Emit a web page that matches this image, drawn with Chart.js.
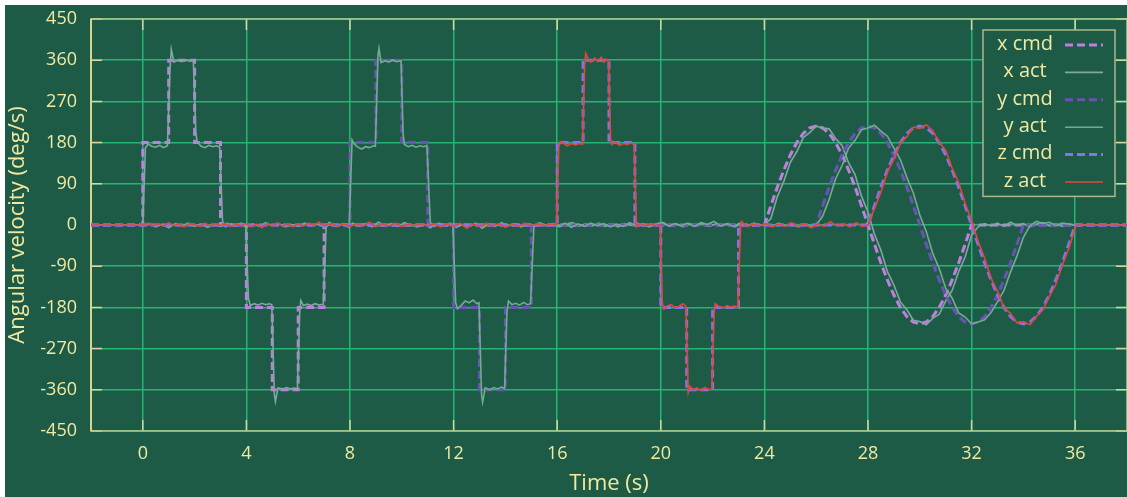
<!DOCTYPE html>
<html>
<head>
<meta charset="utf-8">
<script src="https://cdn.jsdelivr.net/npm/chart.js@4"></script>
<style>
  body { margin: 0; background: #fff; }
  #plot { position: absolute; left: 5px; top: 5px; }
</style>
</head>
<body>
<canvas id="plot" width="1122" height="492"></canvas>
<script>
// tick positions
const timeTicks = [0, 4, 8, 12, 16, 20, 24, 28, 32, 36];
const velTicks = [-450, -360, -270, -180, -90, 0, 90, 180, 270, 360, 450];

// commanded angular velocity, [time s, deg/s]
const xCmd = [[-2,0],[0,0],[0,180],[1,180],[1,360],[2,360],[2,180],[3,180],[3,0],[4,0],[4,-180],[5,-180],[5,-360],[6,-360],[6,-180],[7,-180],[7,0],[24,0],
  [24.25,42],[24.5,83],[24.75,120],[25,153],[25.25,180],[25.5,200],[25.75,212],[26,216],[26.25,212],[26.5,200],[26.75,180],[27,153],[27.25,120],[27.5,83],[27.75,42],[28,0],
  [28.25,-42],[28.5,-83],[28.75,-120],[29,-153],[29.25,-180],[29.5,-200],[29.75,-212],[30,-216],[30.25,-212],[30.5,-200],[30.75,-180],[31,-153],[31.25,-120],[31.5,-83],[31.75,-42],[32,0],[38,0]];
const yCmd = [[-2,0],[8,0],[8,180],[9,180],[9,360],[10,360],[10,180],[11,180],[11,0],[12,0],[12,-180],[13,-180],[13,-360],[14,-360],[14,-180],[15,-180],[15,0],[26,0],
  [26.25,42],[26.5,83],[26.75,120],[27,153],[27.25,180],[27.5,200],[27.75,212],[28,216],[28.25,212],[28.5,200],[28.75,180],[29,153],[29.25,120],[29.5,83],[29.75,42],[30,0],
  [30.25,-42],[30.5,-83],[30.75,-120],[31,-153],[31.25,-180],[31.5,-200],[31.75,-212],[32,-216],[32.25,-212],[32.5,-200],[32.75,-180],[33,-153],[33.25,-120],[33.5,-83],[33.75,-42],[34,0],[38,0]];
const zCmd = [[-2,0],[16,0],[16,180],[17,180],[17,360],[18,360],[18,180],[19,180],[19,0],[20,0],[20,-180],[21,-180],[21,-360],[22,-360],[22,-180],[23,-180],[23,0],[28,0],
  [28.25,42],[28.5,83],[28.75,120],[29,153],[29.25,180],[29.5,200],[29.75,212],[30,216],[30.25,212],[30.5,200],[30.75,180],[31,153],[31.25,120],[31.5,83],[31.75,42],[32,0],
  [32.25,-42],[32.5,-83],[32.75,-120],[33,-153],[33.25,-180],[33.5,-200],[33.75,-212],[34,-216],[34.25,-212],[34.5,-200],[34.75,-180],[35,-153],[35.25,-120],[35.5,-83],[35.75,-42],[36,0],[38,0]];

// measured angular velocity, [time s, deg/s]
const xAct = [[-2,0],[0,0],
  [0.1,168],[0.2,177],[0.35,172],[0.5,170],[0.65,174],[0.8,169],[0.95,173],
  [1.05,340],[1.1,384],[1.2,356],[1.35,360],[1.5,357],[1.65,361],[1.8,358],[1.95,360],
  [2.05,200],[2.1,182],[2.25,172],[2.4,169],[2.55,174],[2.7,171],[2.85,173],[2.97,170],
  [3.08,8],[3.2,-4],[3.4,3],[3.6,-2],[3.8,4],[3.97,0],
  [4.08,-160],[4.15,-176],[4.3,-172],[4.45,-175],[4.6,-171],[4.75,-174],[4.9,-172],[4.98,-174],
  [5.08,-370],[5.12,-386],[5.22,-356],[5.4,-358],[5.55,-355],[5.7,-358],[5.85,-356],[5.97,-357],
  [6.06,-190],[6.1,-165],[6.2,-176],[6.35,-173],[6.5,-176],[6.65,-172],[6.8,-175],[6.97,-173],
  [7.08,-4],[7.2,6],[7.45,-3],[7.7,2],[7.95,-5],
  [8.1,4],[8.35,-2],[8.6,3],[8.85,-4],[9.1,6],[9.35,-1],[9.6,3],[9.85,-3],[10.1,5],[10.35,0],[10.6,-4],[10.85,2],
  [11.1,-6],[11.35,3],[11.6,-2],[11.85,4],[12.1,-5],[12.35,1],[12.6,-3],[12.85,4],[13.1,-7],[13.35,2],[13.6,-3],[13.85,5],
  [14.1,-2],[14.35,3],[14.6,-4],[14.85,2],[15.1,-3],[15.35,4],[15.6,-1],[15.85,3],[16.1,-4],[16.35,2],[16.6,5],[16.85,-3],
  [17.1,3],[17.35,-2],[17.6,4],[17.85,-3],[18.1,2],[18.35,-4],[18.6,3],[18.85,-1],[19.1,4],[19.35,-3],[19.6,2],[19.85,-2],
  [20.1,5],[20.35,-3],[20.6,2],[20.85,-4],[21.1,3],[21.35,-2],[21.6,4],[21.85,-3],[22.1,2],[22.35,-1],[22.6,3],[22.85,-4],
  [23.1,2],[23.35,-3],[23.6,4],[23.85,-1],
  [24,0],[24.25,14],[24.5,62],[24.75,95],[25,137],[25.25,160],[25.5,191],[25.75,202],[26,216],[26.25,212],[26.5,210],[26.75,189],
  [27,174],[27.25,136],[27.5,110],[27.75,63],[28,28],[28.25,-20],[28.5,-55],[28.75,-102],[29,-131],[29.25,-168],[29.5,-185],[29.75,-208],
  [30,-211],[30.25,-218],[30.5,-204],[30.75,-195],[31,-166],[31.25,-143],[31.5,-102],[31.75,-70],[32,-22],[32.25,-4],[32.5,3],
  [32.75,-2],[33,4],[33.25,-3],[33.5,6],[33.75,-1],[34,3],[34.25,-4],[34.5,2],[34.75,5],[35,-2],[35.25,3],[35.5,-3],[35.75,2],[36,0],[38,0]];

const yAct = [[-2,0],[0,0],
  [0.25,3],[0.5,-4],[0.75,2],[1,-6],[1.25,3],[1.5,-2],[1.75,4],[2,-3],[2.25,2],[2.5,-5],[2.75,1],[3,-3],[3.25,4],[3.5,-2],[3.75,3],
  [4,-4],[4.25,2],[4.5,-3],[4.75,5],[5,-2],[5.25,3],[5.5,-4],[5.75,1],[6,-3],[6.25,4],[6.5,-2],[6.75,3],[7,-5],[7.25,2],[7.5,-3],[7.75,3],[7.97,0],
  [8.08,186],[8.15,178],[8.3,170],[8.45,166],[8.6,171],[8.75,169],[8.9,173],[8.98,172],
  [9.08,370],[9.12,386],[9.2,355],[9.35,359],[9.5,356],[9.65,360],[9.8,357],[9.97,359],
  [10.05,200],[10.1,176],[10.25,171],[10.4,174],[10.55,170],[10.7,173],[10.85,171],[10.97,174],
  [11.1,6],[11.25,-3],[11.45,4],[11.7,-2],[11.97,2],
  [12.08,-170],[12.15,-183],[12.3,-175],[12.45,-166],[12.6,-170],[12.75,-164],[12.9,-172],[12.98,-170],
  [13.08,-372],[13.12,-387],[13.22,-356],[13.4,-360],[13.55,-355],[13.7,-358],[13.85,-354],[13.97,-357],
  [14.06,-190],[14.12,-166],[14.25,-174],[14.4,-171],[14.55,-175],[14.7,-169],[14.85,-174],[14.97,-172],
  [15.1,-4],[15.3,5],[15.55,-2],[15.8,3],
  [16.05,-3],[16.3,4],[16.55,-5],[16.8,2],[17.05,-3],[17.3,4],[17.55,-1],[17.8,3],[18.05,-4],[18.3,2],[18.55,-3],[18.8,5],
  [19.05,-2],[19.3,3],[19.55,-4],[19.8,2],[20.05,6],[20.3,-2],[20.55,3],[20.8,-1],[21.05,4],[21.3,-3],[21.55,5],[21.8,1],
  [22.05,8],[22.3,-2],[22.55,3],[22.8,-3],[23.05,4],[23.3,-2],[23.55,3],[23.8,-1],[24.05,2],[24.3,-3],[24.55,4],[24.8,-2],
  [25.05,3],[25.3,-4],[25.55,2],[25.8,-3],[26,0],
  [26.25,19],[26.5,56],[26.75,101],[27,130],[27.25,168],[27.5,185],[27.75,208],[28,212],[28.25,218],[28.5,205],[28.75,194],
  [29,168],[29.25,143],[29.5,104],[29.75,70],[30,22],[30.25,-14],[30.5,-62],[30.75,-95],[31,-138],[31.25,-160],[31.5,-192],[31.75,-201],
  [32,-216],[32.25,-212],[32.5,-207],[32.75,-191],[33,-168],[33.25,-143],[33.5,-103],[33.75,-68],[34,-27],[34.25,-2],[34.5,8],
  [34.75,3],[35,6],[35.25,-1],[35.5,4],[35.75,2],[36,0],[38,0]];

const zAct = [[-2,0],[0,0],
  [0.2,4],[0.4,-2],[0.6,3],[0.8,-3],[1,5],[1.2,-1],[1.4,2],[1.6,-4],[1.8,3],[2,1],[2.2,-3],[2.4,4],[2.6,-2],[2.8,3],[3,-1],
  [3.2,2],[3.4,-3],[3.6,2],[3.8,-2],[4,3],[4.2,-4],[4.4,2],[4.6,-6],[4.8,3],[5,-2],[5.2,5],[5.4,-3],[5.6,2],[5.8,-4],[6,3],
  [6.2,-2],[6.4,4],[6.6,-1],[6.8,6],[7,-2],[7.25,3],[7.5,-2],[7.75,2],[8,-3],[8.25,2],[8.5,-2],[8.75,6],[9,-4],[9.25,3],
  [9.5,-2],[9.75,4],[10,-3],[10.25,2],[10.5,-1],[10.75,3],[11,-2],[11.25,3],[11.5,-4],[11.75,2],[12,-3],[12.25,4],[12.5,-7],
  [12.75,2],[13,-3],[13.25,4],[13.5,-2],[13.75,3],[14,-5],[14.25,2],[14.5,-3],[14.75,4],[15,-2],[15.25,3],[15.5,-1],[15.75,2],[15.97,0],
  [16.06,170],[16.12,182],[16.25,178],[16.4,173],[16.55,178],[16.7,175],[16.85,178],[16.98,177],
  [17.06,350],[17.1,375],[17.2,362],[17.3,356],[17.45,365],[17.55,357],[17.7,366],[17.8,356],[17.9,362],[17.98,358],
  [18.06,190],[18.1,176],[18.25,181],[18.4,174],[18.55,178],[18.7,176],[18.85,179],[18.97,176],
  [19.06,-4],[19.2,3],[19.4,-2],[19.6,2],[19.8,-1],[19.97,0],
  [20.06,-170],[20.12,-184],[20.25,-177],[20.4,-174],[20.55,-180],[20.7,-178],[20.85,-172],[20.97,-178],
  [21.06,-365],[21.12,-352],[21.25,-360],[21.4,-356],[21.55,-362],[21.7,-355],[21.85,-360],[21.97,-358],
  [22.06,-190],[22.1,-172],[22.25,-178],[22.4,-181],[22.55,-176],[22.7,-179],[22.85,-177],[22.97,-180],
  [23.08,-2],[23.12,8],[23.3,-3],[23.55,2],[23.8,-2],
  [24.05,3],[24.3,-4],[24.55,2],[24.8,-3],[25.05,5],[25.3,-2],[25.55,3],[25.8,-6],[26.05,2],[26.3,-3],[26.55,7],[26.8,-2],
  [27.05,3],[27.3,-4],[27.55,5],[27.8,-3],[28,0],
  [28.25,36],[28.5,72],[28.75,116],[29,144],[29.25,178],[29.5,193],[29.75,214],[30,211],[30.25,219],[30.5,206],[30.75,181],
  [31,163],[31.25,124],[31.5,93],[31.75,47],[32,10],[32.25,-36],[32.5,-72],[32.75,-116],[33,-145],[33.25,-181],[33.5,-193],
  [33.75,-214],[34,-211],[34.25,-218],[34.5,-200],[34.75,-186],[35,-156],[35.25,-130],[35.5,-88],[35.75,-52],[36,-6],[36.05,0],[38,0]];

const seriesNames = ['x cmd', 'x act', 'y cmd', 'y act', 'z cmd', 'z act'];
const seriesData = [xCmd, xAct, yCmd, yAct, zCmd, zAct];
const seriesColors = ['#c07fe0', '#7fa6a0', '#6a52b6', '#76aa90', '#8672f0', '#e0483a'];

const bg = '#1e5b46';
const textColor = '#f0e9a2';

Chart.defaults.font.family = '"Open Sans", sans-serif';
Chart.defaults.color = textColor;

const datasets = seriesData.map((pts, i) => {
  const cmd = i % 2 === 0;
  return {
    label: seriesNames[i],
    data: pts.map(p => ({ x: p[0], y: p[1] })),
    borderColor: seriesColors[i],
    borderWidth: cmd ? 3 : 1.6,
    borderDash: cmd ? [8, 4] : [],
    pointRadius: 0,
    tension: 0,
    order: 5 - i
  };
});

// background fill
const bgPlugin = {
  id: 'bg',
  beforeDraw(chart) {
    const ctx = chart.ctx;
    ctx.save();
    ctx.fillStyle = bg;
    ctx.fillRect(0, 0, chart.width, chart.height);
    ctx.restore();
  }
};

// gnuplot style border with inward ticks
const framePlugin = {
  id: 'frame',
  beforeDatasetsDraw(chart) {
    const { ctx, chartArea: a, scales } = chart;
    ctx.save();
    ctx.lineWidth = 1.5;
    ctx.strokeStyle = '#d6d6a0';
    ctx.beginPath();
    timeTicks.forEach(v => {
      const px = scales.x.getPixelForValue(v);
      ctx.moveTo(px, a.top); ctx.lineTo(px, a.top + 11);
      ctx.moveTo(px, a.bottom); ctx.lineTo(px, a.bottom - 11);
    });
    velTicks.forEach(v => {
      const py = scales.y.getPixelForValue(v);
      ctx.moveTo(a.left, py); ctx.lineTo(a.left + 11, py);
      ctx.moveTo(a.right, py); ctx.lineTo(a.right - 11, py);
    });
    ctx.stroke();
    ctx.strokeStyle = '#bcc48c';
    ctx.strokeRect(a.left, a.top, a.right - a.left, a.bottom - a.top);
    ctx.strokeStyle = '#ece48e';
    ctx.beginPath();
    ctx.moveTo(a.left, a.top); ctx.lineTo(a.left, a.bottom);
    ctx.stroke();
    ctx.restore();
  }
};

// legend box in the top right corner
const keyPlugin = {
  id: 'key',
  afterDatasetsDraw(chart) {
    const { ctx, chartArea: a } = chart;
    const boxR = a.right - 12, boxL = boxR - 132, boxT = a.top + 11, rowH = 27.4;
    const boxB = boxT + rowH * 6 + 2;
    ctx.save();
    ctx.fillStyle = bg;
    ctx.fillRect(boxL, boxT, boxR - boxL, boxB - boxT);
    ctx.strokeStyle = '#a9b98a';
    ctx.lineWidth = 1.5;
    ctx.strokeRect(boxL, boxT, boxR - boxL, boxB - boxT);
    ctx.font = '20px "Open Sans", sans-serif';
    ctx.textAlign = 'center';
    ctx.textBaseline = 'middle';
    chart.data.datasets.forEach((ds, i) => {
      const cy = boxT + 15 + i * rowH;
      ctx.fillStyle = textColor;
      ctx.fillText(ds.label, boxL + 42, cy - 1);
      ctx.strokeStyle = ds.borderColor;
      ctx.lineWidth = ds.borderWidth;
      ctx.setLineDash(ds.borderDash);
      ctx.beginPath();
      ctx.moveTo(boxL + 82, cy);
      ctx.lineTo(boxL + 120, cy);
      ctx.stroke();
    });
    ctx.restore();
  }
};

new Chart(document.getElementById('plot'), {
  type: 'line',
  data: { datasets },
  plugins: [bgPlugin, framePlugin, keyPlugin],
  options: {
    responsive: false,
    animation: false,
    layout: { padding: { top: 14, right: 0, left: 0, bottom: 0 } },
    plugins: { legend: { display: false }, tooltip: { enabled: false } },
    scales: {
      x: {
        type: 'linear',
        min: -2,
        max: 38,
        afterBuildTicks: s => { s.ticks = timeTicks.map(v => ({ value: v })); },
        afterFit: s => { s.height = 66; s.paddingLeft = 0; s.paddingRight = 0; },
        grid: { color: '#22b574', lineWidth: 1.5, drawTicks: false },
        border: { display: false },
        ticks: { autoSkip: false, maxRotation: 0, padding: 12, font: { size: 18 }, color: textColor },
        title: { display: true, text: 'Time (s)', font: { size: 22 }, color: textColor, padding: 0 }
      },
      y: {
        min: -450,
        max: 450,
        afterBuildTicks: s => { s.ticks = velTicks.map(v => ({ value: v })); },
        afterFit: s => { s.width = 86; s.paddingTop = 0; s.paddingBottom = 0; },
        grid: { color: '#22b574', lineWidth: 1.5, drawTicks: false },
        border: { display: false },
        ticks: { padding: 14, font: { size: 18 }, color: textColor },
        title: { display: true, text: 'Angular velocity (deg/s)', font: { size: 22 }, color: textColor, padding: 0 }
      }
    }
  }
});
</script>
</body>
</html>
